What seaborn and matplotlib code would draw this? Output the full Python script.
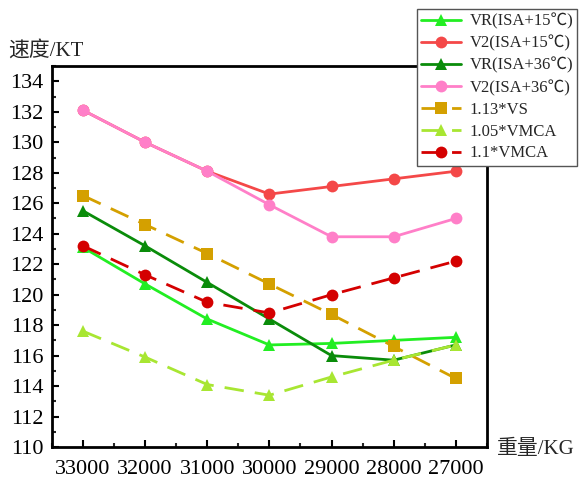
import matplotlib
matplotlib.use("Agg")
import matplotlib.pyplot as plt
import seaborn as sns
import pandas as pd
from matplotlib.ticker import MultipleLocator

weights = ["33000", "32000", "31000", "30000", "29000", "28000", "27000"]
vr_15 = [123.1, 120.7, 118.4, 116.7, 116.8, 117.0, 117.2]
v2_15 = [132.1, 130.0, 128.1, 126.6, 127.1, 127.6, 128.1]
vr_36 = [125.5, 123.2, 120.8, 118.4, 116.0, 115.7, 116.7]
v2_36 = [132.1, 130.0, 128.1, 125.9, 123.8, 123.8, 125.0]
vs_113 = [126.5, 124.6, 122.7, 120.7, 118.7, 116.6, 114.5]
vmca_105 = [117.6, 115.9, 114.1, 113.4, 114.6, 115.7, 116.7]
vmca_11 = [123.2, 121.3, 119.5, 118.8, 120.0, 121.1, 122.2]

series = [
    ("VR(ISA+15℃)", vr_15, "#22ee22", "^", "-"),
    ("V2(ISA+15℃)", v2_15, "#f44848", "o", "-"),
    ("VR(ISA+36℃)", vr_36, "#0a8c0a", "^", "-"),
    ("V2(ISA+36℃)", v2_36, "#ff7fc8", "o", "-"),
    ("1.13*VS", vs_113, "#d4a000", "s", (0, (7, 4))),
    ("1.05*VMCA", vmca_105, "#a8e632", "^", (0, (7, 4))),
    ("1.1*VMCA", vmca_11, "#d40000", "o", (0, (7, 4))),
]

sns.set_style("ticks")
fam = ["Liberation Serif", "Noto Sans CJK SC"]
plt.rcParams["font.family"] = fam

fig = plt.figure(figsize=(5.79, 4.84), dpi=100)
ax = fig.add_axes([0.0898, 0.0764, 0.751, 0.787])

for name, vals, color, marker, ls in series:
    df = pd.DataFrame({"w": range(len(weights)), "v": vals})
    sns.lineplot(data=df, x="w", y="v", ax=ax, color=color, marker=marker,
                 markersize=8.5, markeredgewidth=0, linewidth=2, linestyle=ls,
                 label=name, legend=False)

ax.set_xlim(-0.5, 6.5)
ax.set_ylim(110, 135)
ax.set_xticks(range(len(weights)))
ax.set_xticklabels(weights)
ax.yaxis.set_major_locator(MultipleLocator(2))
ax.yaxis.set_minor_locator(MultipleLocator(1))
ax.xaxis.set_minor_locator(MultipleLocator(0.5))
ax.tick_params(axis="both", which="major", direction="in", length=5, width=1.5,
               labelsize=16, colors="black")
ax.tick_params(axis="x", which="major", pad=9)
ax.tick_params(axis="y", which="major", pad=6)
ax.tick_params(axis="both", which="minor", direction="in", length=3, width=1.5)
ax.tick_params(axis="x", which="both", top=False)
ax.tick_params(axis="y", which="both", right=False)
for s in ax.spines.values():
    s.set_linewidth(2)
    s.set_color("black")
ax.set_xlabel("")
ax.set_ylabel("")

fig.text(8 / 579, 1 - 51 / 484, "速度/KT", fontsize=15, va="center", ha="left", family=fam)
fig.text(497 / 579, 1 - 449 / 484, "重量/KG", fontsize=15, va="center", ha="left", family=fam)

handles, labels = ax.get_legend_handles_labels()
leg = fig.legend(handles, labels, loc="upper left", bbox_to_anchor=(417 / 579, 1 - 9 / 484),
                 fontsize=12, frameon=True, fancybox=False, edgecolor="#555555",
                 framealpha=1, borderpad=0.25, labelspacing=0.35, handlelength=2.4,
                 handletextpad=0.5, borderaxespad=0)
leg.get_frame().set_linewidth(1)

fig.savefig("out.png", dpi=100)
